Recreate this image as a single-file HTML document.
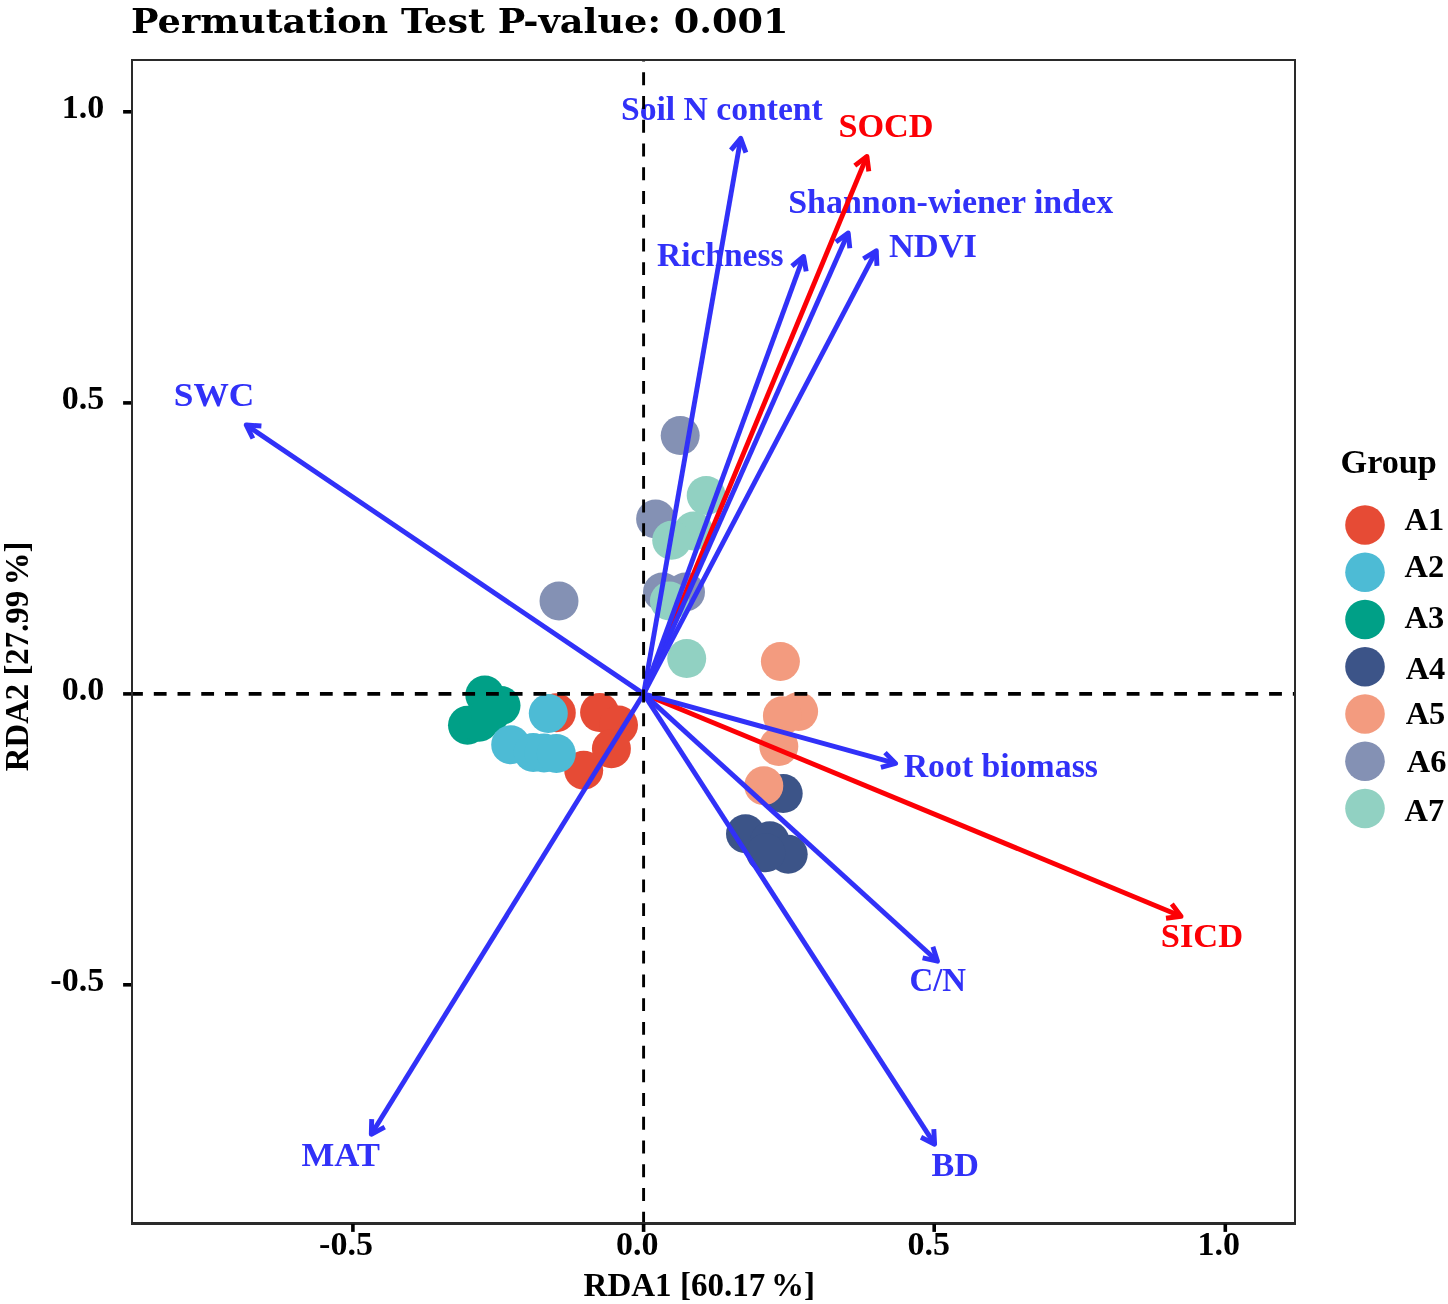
<!DOCTYPE html>
<html><head><meta charset="utf-8"><title>RDA plot</title>
<style>
html,body{margin:0;padding:0;background:#fff;}
svg{display:block;}
text{font-family:"Liberation Serif","DejaVu Serif",serif;font-weight:bold;}
.ttl{font-family:"DejaVu Serif","Liberation Serif",serif;font-weight:bold;}
</style></head><body>
<svg width="1448" height="1304" viewBox="0 0 1448 1304">
<rect width="1448" height="1304" fill="#fff"/>
<text class="ttl" x="131" y="33" font-size="33.5" textLength="657.5" lengthAdjust="spacingAndGlyphs">Permutation Test P-value: 0.001</text>

<g>
<circle cx="680.2" cy="435.6" r="19.5" fill="#8491B4"/>
<circle cx="655.6" cy="519" r="19.5" fill="#8491B4"/>
<circle cx="559" cy="601" r="19.5" fill="#8491B4"/>
<circle cx="662.5" cy="592" r="19.5" fill="#8491B4"/>
<circle cx="685.5" cy="592" r="19.5" fill="#8491B4"/>
<circle cx="706.2" cy="495.4" r="19.5" fill="#91D1C2"/>
<circle cx="693.6" cy="531" r="19.5" fill="#91D1C2"/>
<circle cx="671.7" cy="540.2" r="19.5" fill="#91D1C2"/>
<circle cx="669.4" cy="601" r="19.5" fill="#91D1C2"/>
<circle cx="686.7" cy="658.6" r="19.5" fill="#91D1C2"/>
<circle cx="484.8" cy="695" r="19.5" fill="#00A087"/>
<circle cx="501" cy="705.6" r="19.5" fill="#00A087"/>
<circle cx="467.5" cy="725.3" r="19.5" fill="#00A087"/>
<circle cx="479.2" cy="722.3" r="19.5" fill="#00A087"/>
<circle cx="490.4" cy="713.5" r="19.5" fill="#00A087"/>
<circle cx="556.3" cy="712.7" r="19.5" fill="#E64B35"/>
<circle cx="599.6" cy="712.4" r="19.5" fill="#E64B35"/>
<circle cx="618.5" cy="725.1" r="19.5" fill="#E64B35"/>
<circle cx="611.4" cy="748.8" r="19.5" fill="#E64B35"/>
<circle cx="583.7" cy="770.2" r="19.5" fill="#E64B35"/>
<circle cx="548.3" cy="713.5" r="19.5" fill="#4DBBD5"/>
<circle cx="510.7" cy="744.8" r="19.5" fill="#4DBBD5"/>
<circle cx="533.2" cy="752.4" r="19.5" fill="#4DBBD5"/>
<circle cx="544" cy="753" r="19.5" fill="#4DBBD5"/>
<circle cx="556.3" cy="753.6" r="19.5" fill="#4DBBD5"/>
<circle cx="783.2" cy="793.6" r="19.5" fill="#3C5488"/>
<circle cx="745.5" cy="833.7" r="19.5" fill="#3C5488"/>
<circle cx="769.8" cy="840.7" r="19.5" fill="#3C5488"/>
<circle cx="788.2" cy="854.2" r="19.5" fill="#3C5488"/>
<circle cx="765.8" cy="852.8" r="19.5" fill="#3C5488"/>
<circle cx="780.4" cy="661.5" r="19.5" fill="#F39B7F"/>
<circle cx="798.6" cy="711.4" r="19.5" fill="#F39B7F"/>
<circle cx="782.4" cy="715.8" r="19.5" fill="#F39B7F"/>
<circle cx="778.8" cy="746.5" r="19.5" fill="#F39B7F"/>
<circle cx="763.8" cy="785.8" r="19.5" fill="#F39B7F"/>
</g>
<g font-size="34.3">
<text transform="translate(620.94,119.6) scale(0.9809,1)" fill="#3131F8">Soil N content</text>
<text transform="translate(838.40,136.6) scale(0.9989,1)" fill="#FC0005">SOCD</text>
<text transform="translate(788.22,212.8) scale(0.9905,1)" fill="#3131F8">Shannon-wiener index</text>
<text transform="translate(657.02,265.6) scale(0.9766,1)" fill="#3131F8">Richness</text>
<text transform="translate(889.00,257.4) scale(1.0035,1)" fill="#3131F8">NDVI</text>
<text transform="translate(173.84,405.5) scale(1.0315,1)" fill="#3131F8">SWC</text>
<text transform="translate(903.71,777.0) scale(0.9851,1)" fill="#3131F8">Root biomass</text>
<text transform="translate(1160.79,947.2) scale(1.0051,1)" fill="#FC0005">SICD</text>
<text transform="translate(909.48,991.3) scale(0.9579,1)" fill="#3131F8">C/N</text>
<text transform="translate(931.40,1175.8) scale(0.9956,1)" fill="#3131F8">BD</text>
<text transform="translate(301.49,1165.8) scale(1.0132,1)" fill="#3131F8">MAT</text>
</g>
<g stroke="#FC0005" stroke-width="4.9" fill="none" stroke-linecap="butt" stroke-linejoin="round"><line x1="643.6" y1="693.9" x2="866.9" y2="156.4"/><polyline points="868.8,171.4 866.9,156.4 854.8,165.6"/></g>
<g stroke="#FC0005" stroke-width="4.9" fill="none" stroke-linecap="butt" stroke-linejoin="round"><line x1="643.6" y1="693.9" x2="1181.0" y2="916.2"/><polyline points="1166.0,918.2 1181.0,916.2 1171.8,904.1"/></g>
<g stroke="#3131F8" stroke-width="4.9" fill="none" stroke-linecap="butt" stroke-linejoin="round"><line x1="643.6" y1="693.9" x2="740.7" y2="138.4"/><polyline points="745.9,152.7 740.7,138.4 730.9,150.1"/></g>
<g stroke="#3131F8" stroke-width="4.9" fill="none" stroke-linecap="butt" stroke-linejoin="round"><line x1="643.6" y1="693.9" x2="848.2" y2="233.0"/><polyline points="849.8,248.2 848.2,233.0 835.9,242.0"/></g>
<g stroke="#3131F8" stroke-width="4.9" fill="none" stroke-linecap="butt" stroke-linejoin="round"><line x1="643.6" y1="693.9" x2="803.6" y2="256.4"/><polyline points="806.2,271.4 803.6,256.4 791.9,266.2"/></g>
<g stroke="#3131F8" stroke-width="4.9" fill="none" stroke-linecap="butt" stroke-linejoin="round"><line x1="643.6" y1="693.9" x2="876.3" y2="250.7"/><polyline points="876.9,265.9 876.3,250.7 863.4,258.8"/></g>
<g stroke="#3131F8" stroke-width="4.9" fill="none" stroke-linecap="butt" stroke-linejoin="round"><line x1="643.6" y1="693.9" x2="246.2" y2="424.9"/><polyline points="261.4,426.0 246.2,424.9 252.9,438.5"/></g>
<g stroke="#3131F8" stroke-width="4.9" fill="none" stroke-linecap="butt" stroke-linejoin="round"><line x1="643.6" y1="693.9" x2="895.6" y2="763.4"/><polyline points="880.9,767.3 895.6,763.4 885.0,752.6"/></g>
<g stroke="#3131F8" stroke-width="4.9" fill="none" stroke-linecap="butt" stroke-linejoin="round"><line x1="643.6" y1="693.9" x2="937.5" y2="961.2"/><polyline points="922.6,957.9 937.5,961.2 932.9,946.7"/></g>
<g stroke="#3131F8" stroke-width="4.9" fill="none" stroke-linecap="butt" stroke-linejoin="round"><line x1="643.6" y1="693.9" x2="934.6" y2="1144.2"/><polyline points="921.0,1137.3 934.6,1144.2 933.8,1129.1"/></g>
<g stroke="#3131F8" stroke-width="4.9" fill="none" stroke-linecap="butt" stroke-linejoin="round"><line x1="643.6" y1="693.9" x2="371.3" y2="1134.3"/><polyline points="371.7,1119.1 371.3,1134.3 384.7,1127.1"/></g>
<line x1="643.6" y1="61" x2="643.6" y2="1222" stroke="#000" stroke-width="2.9" stroke-dasharray="12.9 10.84" stroke-dashoffset="12.44"/>
<line x1="133" y1="693.9" x2="1294" y2="693.9" stroke="#000" stroke-width="3.8" stroke-dasharray="12.8 10.93" stroke-dashoffset="2.93"/>
<rect x="132" y="60" width="1163" height="1163" fill="none" stroke="#2a2a2a" stroke-width="2"/>
<line x1="131" y1="1224.5" x2="1296" y2="1224.5" stroke="#2a2a2a" stroke-width="1"/>
<g stroke="#000" stroke-width="3.6">
<line x1="352.9" y1="1224" x2="352.9" y2="1231.9"/>
<line x1="643.6" y1="1224" x2="643.6" y2="1231.9"/>
<line x1="934.2" y1="1224" x2="934.2" y2="1231.9"/>
<line x1="1225.3" y1="1224" x2="1225.3" y2="1231.9"/>
<line x1="123.1" y1="111.8" x2="131" y2="111.8"/>
<line x1="123.1" y1="402.9" x2="131" y2="402.9"/>
<line x1="123.1" y1="693.9" x2="131" y2="693.9"/>
<line x1="123.1" y1="984.8" x2="131" y2="984.8"/>
</g>
<g font-size="34" fill="#000">
<text x="319.10" y="1255.4">-0.5</text>
<text x="616.10" y="1255.4">0.0</text>
<text x="907.38" y="1255.4">0.5</text>
<text x="1197.55" y="1255.4">1.0</text>
<text x="104.2" y="117.8" text-anchor="end">1.0</text>
<text x="104.2" y="408.9" text-anchor="end">0.5</text>
<text x="104.2" y="699.9" text-anchor="end">0.0</text>
<text x="104.2" y="990.8" text-anchor="end">-0.5</text>
</g>
<text transform="translate(583.53,1296.2) scale(0.9719,1)" font-size="34" fill="#000">RDA1 [60.17<tspan dx="6">%]</tspan></text>
<text transform="translate(27.5,771.16) rotate(-90) scale(0.9643,1)" font-size="34" fill="#000">RDA2 [27.99<tspan dx="6">%]</tspan></text>
<text x="1340.6" y="472.7" font-size="34.2" fill="#000">Group</text>
<circle cx="1365" cy="525.0" r="19.8" fill="#E64B35"/>
<text x="1404.6" y="529.60" font-size="32.4" fill="#000">A1</text>
<circle cx="1365" cy="572.25" r="19.8" fill="#4DBBD5"/>
<text x="1404.6" y="576.60" font-size="32.4" fill="#000">A2</text>
<circle cx="1365" cy="619.5" r="19.8" fill="#00A087"/>
<text x="1404.6" y="627.70" font-size="32.4" fill="#000">A3</text>
<circle cx="1365" cy="666.75" r="19.8" fill="#3C5488"/>
<text x="1405.7" y="679.30" font-size="32.4" fill="#000">A4</text>
<circle cx="1365" cy="714.0" r="19.8" fill="#F39B7F"/>
<text x="1405.7" y="724.40" font-size="32.4" fill="#000">A5</text>
<circle cx="1365" cy="761.25" r="19.8" fill="#8491B4"/>
<text x="1406.8" y="772.40" font-size="32.4" fill="#000">A6</text>
<circle cx="1365" cy="808.5" r="19.8" fill="#91D1C2"/>
<text x="1404.6" y="821.45" font-size="32.4" fill="#000">A7</text>
</svg></body></html>
